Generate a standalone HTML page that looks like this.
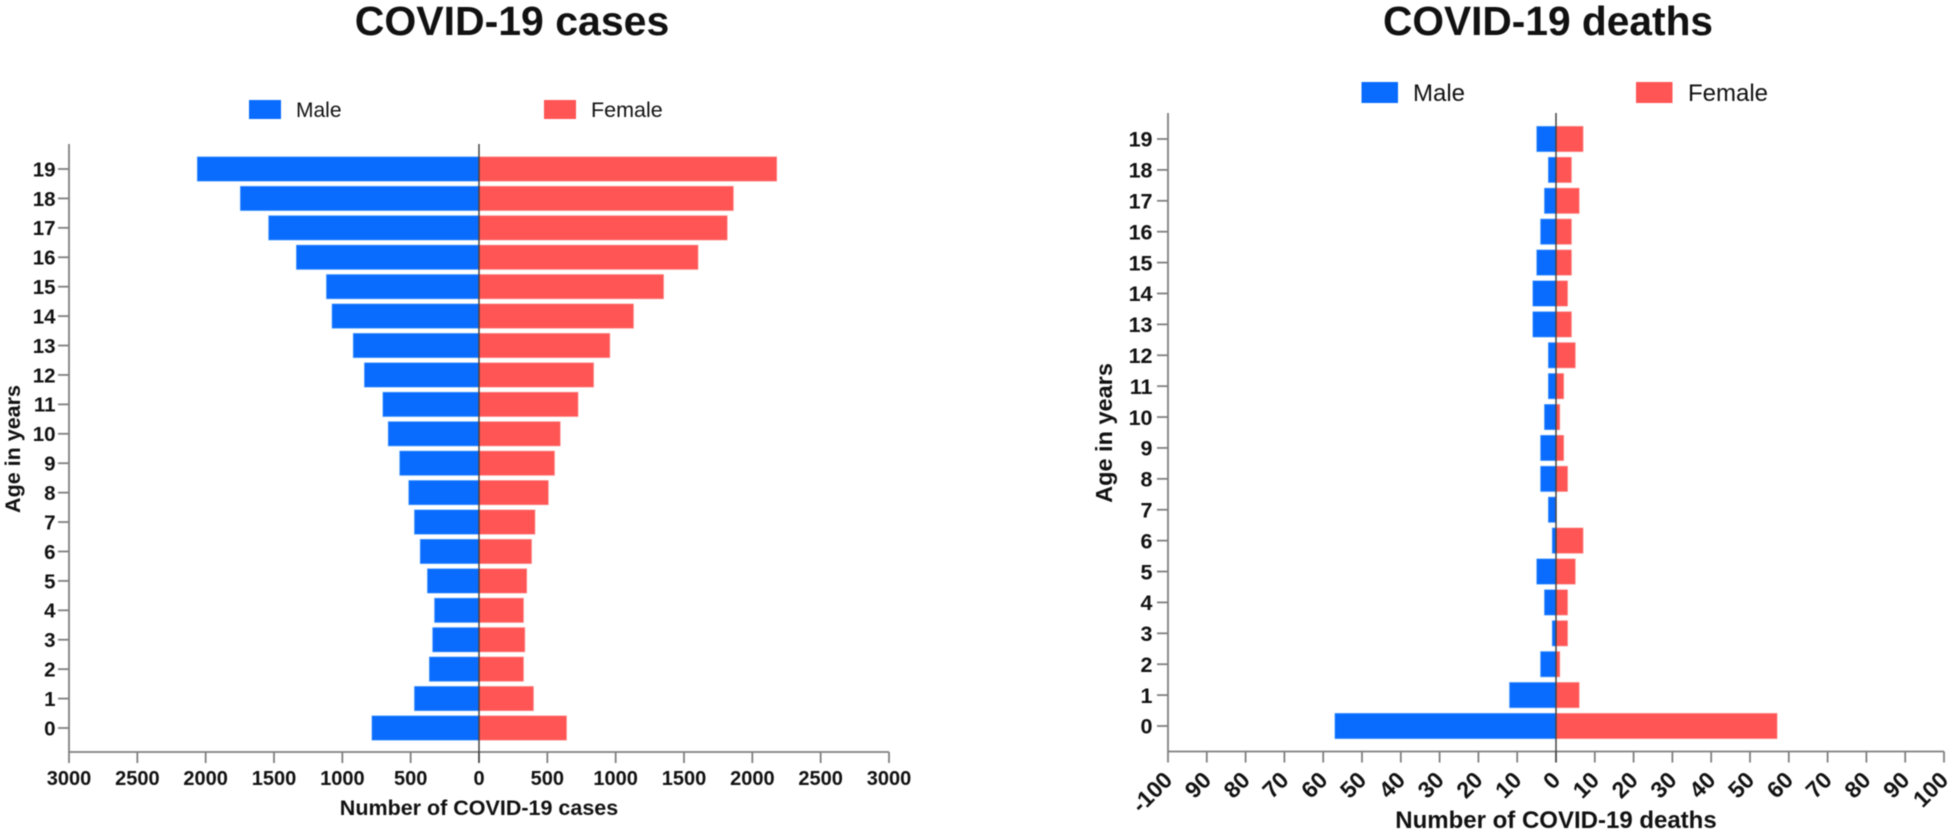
<!DOCTYPE html>
<html lang="en">
<head>
<meta charset="utf-8">
<title>COVID-19 cases and deaths by age and sex</title>
<style>
html,body{margin:0;padding:0;background:#fff;}
svg{display:block;font-family:"Liberation Sans",Arial,sans-serif;filter:blur(0.6px);}
text{fill:#111;}
.b{font-weight:bold;}
</style>
</head>
<body>
<svg id="fig" xmlns="http://www.w3.org/2000/svg" width="1950" height="834" viewBox="0 0 1950 834">
  <rect x="0" y="0" width="1950" height="834" fill="#fff"/>
  <g id="cases">
    <text class="b" x="512" y="35" font-size="41" text-anchor="middle">COVID-19 cases</text>
    <rect x="249" y="100" width="32" height="19" fill="#0a6cff"/>
    <text x="296" y="117" font-size="21">Male</text>
    <rect x="544" y="100" width="32" height="19" fill="#ff5555"/>
    <text x="591" y="117" font-size="21.5">Female</text>
    <text class="b" x="479" y="815" font-size="21.5" text-anchor="middle">Number of COVID-19 cases</text>
    <text class="b" transform="translate(20,449) rotate(-90)" font-size="21.5" text-anchor="middle">Age in years</text>
  </g>
  <g id="deaths">
    <text class="b" x="1548" y="35" font-size="40.7" text-anchor="middle">COVID-19 deaths</text>
    <rect x="1361.5" y="82" width="36.5" height="21" fill="#0a6cff"/>
    <text x="1413" y="101" font-size="24">Male</text>
    <rect x="1636" y="82" width="36.5" height="21" fill="#ff5555"/>
    <text x="1688" y="101" font-size="24">Female</text>
    <text class="b" x="1556" y="828" font-size="24" text-anchor="middle">Number of COVID-19 deaths</text>
    <text class="b" transform="translate(1112,433) rotate(-90)" font-size="23.5" text-anchor="middle">Age in years</text>
  </g>
</svg>
<script>
// Shared categories: age in years, index 0 is age 0
const ages = [0,1,2,3,4,5,6,7,8,9,10,11,12,13,14,15,16,17,18,19];

// COVID-19 cases
const casesMale = [784,473,364,340,326,378,431,473,515,581,665,704,839,921,1076,1117,1337,1540,1747,2062];
const casesFemale = [641,399,326,336,326,350,385,410,508,553,595,725,839,958,1131,1351,1603,1817,1862,2179];
const casesTicks = [-3000,-2500,-2000,-1500,-1000,-500,0,500,1000,1500,2000,2500,3000];
const casesTickLabels = ["3000","2500","2000","1500","1000","500","0","500","1000","1500","2000","2500","3000"];

// COVID-19 deaths
const deathsMale = [57,12,4,1,3,5,1,2,4,4,3,2,2,6,6,5,4,3,2,5];
const deathsFemale = [57,6,1,3,3,5,7,0,3,2,1,2,5,4,3,4,4,6,4,7];
const deathsTicks = [-100,-90,-80,-70,-60,-50,-40,-30,-20,-10,0,10,20,30,40,50,60,70,80,90,100];
const deathsTickLabels = ["-100","90","80","70","60","50","40","30","20","10","0","10","20","30","40","50","60","70","80","90","100"];

const NS = "http://www.w3.org/2000/svg";
const AXIS = "#7f7f7f";

function make(tag, parent, props) {
  const node = document.createElementNS(NS, tag);
  for (const k in props) node.setAttribute(k, props[k]);
  parent.appendChild(node);
  return node;
}

function drawChart(o) {
  const root = document.getElementById(o.id);
  const xScale = v => o.x0 + (v - o.domain[0]) / (o.domain[1] - o.domain[0]) * (o.x1 - o.x0);
  const yScale = a => o.yAt0 + (a - ages[0]) / (ages[ages.length - 1] - ages[0]) * (o.yAt19 - o.yAt0);
  const zero = xScale(0);

  // bars
  ages.forEach((age, i) => {
    const y = yScale(age) - o.barH / 2;
    const wm = zero - xScale(-o.male[i]);
    const m = make("rect", root, {x: zero - wm, y: y, width: wm, height: o.barH, fill: "#0a6cff", stroke: "#6fb2ff", "stroke-width": 0.6});
    
    
    const wf = xScale(o.female[i]) - zero;
    const f = make("rect", root, {x: zero, y: y, width: wf, height: o.barH, fill: "#ff5555", stroke: "#ffa5a5", "stroke-width": 0.6});
    
    
  });

  // y axis
  const yAxis = make("line", root, {x1: o.x0, x2: o.x0, y1: o.top, y2: o.bottom, stroke: AXIS, "stroke-width": 1.8});
  
  
  ages.forEach(age => {
    const y = yScale(age);
    const t = make("line", root, {x1: o.x0 - 11, x2: o.x0, y1: y, y2: y, stroke: AXIS, "stroke-width": 1.8});
    
    
    const l = make("text", root, {x: o.yLabelX, y: y + o.yFont * 0.36, "font-size": o.yFont, "font-weight": "bold", "text-anchor": "end"});
    l.textContent = age;
    
    
  });

  // x axis
  const xAxis = make("line", root, {x1: o.x0, x2: o.x1, y1: o.bottom, y2: o.bottom, stroke: AXIS, "stroke-width": 1.8});
  
  
  o.ticks.forEach((v, i) => {
    const x = xScale(v);
    const t = make("line", root, {x1: x, x2: x, y1: o.bottom, y2: o.bottom + 11, stroke: AXIS, "stroke-width": 1.8});
    
    
    const props = o.rotate
      ? {transform: "translate(" + (x + 5.7) + "," + (o.bottom + 30) + ") rotate(-45)", "font-size": o.xFont, "font-weight": "bold", "text-anchor": "end"}
      : {x: x, y: o.bottom + 33, "font-size": o.xFont, "font-weight": "bold", "text-anchor": "middle"};
    const l = make("text", root, props);
    l.textContent = o.tickLabels[i];
    
    
  });

  // centre line at zero, drawn above the bars
  const c = make("line", root, {x1: zero, x2: zero, y1: o.top, y2: o.bottom + 11, stroke: "#444", "stroke-width": 1.5});
  
  
}

drawChart({
  id: "cases", male: casesMale, female: casesFemale, ticks: casesTicks, tickLabels: casesTickLabels,
  domain: [-3000, 3000], x0: 69, x1: 889, top: 144, bottom: 752, yAt0: 728, yAt19: 169,
  barH: 24.5, yLabelX: 55.5, yFont: 20.5, xFont: 20, rotate: false
});
drawChart({
  id: "deaths", male: deathsMale, female: deathsFemale, ticks: deathsTicks, tickLabels: deathsTickLabels,
  domain: [-100, 100], x0: 1168, x1: 1944, top: 113, bottom: 751.5, yAt0: 726, yAt19: 139,
  barH: 25.5, yLabelX: 1152.5, yFont: 21.5, xFont: 23, rotate: true
});
</script>
</body>
</html>
